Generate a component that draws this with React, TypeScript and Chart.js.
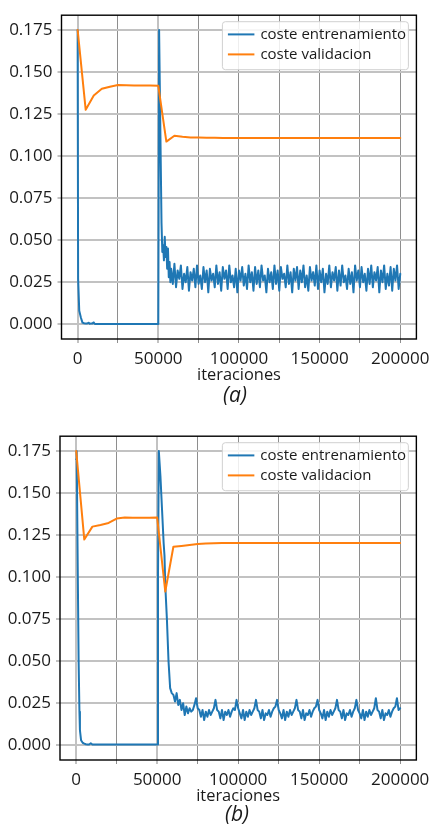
import React, { useEffect, useRef } from 'react';
import { Chart, registerables } from 'chart.js';

Chart.register(...registerables);

// ---------- shared axis values ----------
const X_GRID = [0, 25000, 50000, 75000, 100000, 125000, 150000, 175000, 200000];
const X_LABELED = [0, 50000, 100000, 150000, 200000];
const Y_GRID = [0, 0.025, 0.05, 0.075, 0.1, 0.125, 0.15, 0.175];
const X_LABEL = 'iteraciones';
const SERIES_LABELS = ['coste entrenamiento', 'coste validacion'];
const TRAIN_LOG_STEP = 1000;

// ---------- panel (a) ----------
const trainA_iters = [0, 300, 1000, 2000, 3000, 4000, 5000, 6000, 7000, 7500, 8000, 9000, 10000, 10500, 11000, 12000, 14000, 20000, 30000, 40000, 50000,
  50500, 52000, 52500, 53000, 53500, 54000, 54500, 55000, 55500, 56000, 56500, 57000, 57500];
const trainA_vals = [0.175, 0.027, 0.008, 0.004, 0.001, 0.0006, 0.0004, 0.0005, 0.0009, 0.0003, 0.0004, 0.0004, 0.0011, 0.0003, 0.0002, 0.0002, 0.0002, 0.0001, 0.0001, 0.0001, 0.0001,
  0.175, 0.06, 0.043, 0.047, 0.038, 0.052, 0.04, 0.046, 0.033, 0.045, 0.028, 0.037, 0.025];
const trainA_denseStart = 58000;
const trainA_dense = [
  0.033, 0.024, 0.036, 0.022, 0.032, 0.027, 0.035, 0.021, 0.030, 0.025,
  0.034, 0.020, 0.031, 0.026, 0.033, 0.022, 0.035, 0.024, 0.029, 0.021,
  0.034, 0.025, 0.032, 0.019, 0.033, 0.026, 0.030, 0.022, 0.035, 0.024,
  0.031, 0.020, 0.034, 0.027, 0.032, 0.021, 0.035, 0.025, 0.029, 0.022,
  0.033, 0.019, 0.032, 0.026, 0.034, 0.023, 0.030, 0.021, 0.035, 0.025,
  0.031, 0.020, 0.034, 0.024, 0.032, 0.022, 0.035, 0.026, 0.029, 0.019,
  0.033, 0.025, 0.031, 0.021, 0.035, 0.024, 0.032, 0.020, 0.034, 0.027,
  0.030, 0.022, 0.035, 0.024, 0.031, 0.019, 0.033, 0.026, 0.034, 0.021,
  0.032, 0.025, 0.035, 0.022, 0.029, 0.020, 0.034, 0.026, 0.031, 0.023,
  0.035, 0.021, 0.032, 0.025, 0.033, 0.019, 0.030, 0.024, 0.035, 0.022,
  0.031, 0.026, 0.034, 0.020, 0.032, 0.023, 0.035, 0.025, 0.029, 0.021,
  0.033, 0.024, 0.031, 0.019, 0.035, 0.026, 0.032, 0.022, 0.034, 0.025,
  0.030, 0.020, 0.033, 0.024, 0.035, 0.022, 0.031, 0.026, 0.034, 0.019,
  0.032, 0.025, 0.035, 0.021, 0.030, 0.023, 0.034, 0.020, 0.033, 0.026,
  0.035, 0.021, 0.030,
];
const valA_iters = [0, 5000, 10000, 15000, 20000, 25000, 30000, 35000, 40000, 45000, 50000, 55000, 60000, 65000, 70000, 75000, 80000,
  85000, 90000, 95000, 100000, 105000, 110000, 115000, 120000, 125000, 130000, 135000, 140000, 145000, 150000,
  155000, 160000, 165000, 170000, 175000, 180000, 185000, 190000, 195000, 200000];
const valA_vals = [0.175, 0.1275, 0.136, 0.14, 0.1412, 0.1422, 0.1421, 0.142, 0.1419, 0.1419, 0.1418, 0.1086, 0.1121, 0.1115, 0.1111, 0.111, 0.1109,
  0.1109, 0.1108, 0.1108, 0.1108, 0.1108, 0.1108, 0.1108, 0.1108, 0.1108, 0.1108, 0.1108, 0.1108, 0.1108, 0.1108,
  0.1108, 0.1108, 0.1108, 0.1108, 0.1108, 0.1108, 0.1108, 0.1108, 0.1108, 0.1108];

// ---------- panel (b) ----------
const trainB_iters = [0, 300, 1000, 1500, 2000, 2300, 3000, 4000, 5000, 6000, 7000, 8000, 9000, 10000, 12000, 20000, 30000, 40000, 50000,
  50500, 51000, 52000, 53000, 54000, 54500, 55000, 56000, 57000, 58000];
const trainB_vals = [0.17, 0.175, 0.1, 0.05, 0.02, 0.009, 0.003, 0.0015, 0.001, 0.0006, 0.0005, 0.0005, 0.0012, 0.0005, 0.0004, 0.0004, 0.0004, 0.0004, 0.0004,
  0.1, 0.175, 0.16, 0.14, 0.12, 0.113, 0.095, 0.075, 0.05, 0.034];
const trainB_denseStart = 59000;
const trainB_dense = [
  0.031, 0.030, 0.026, 0.031, 0.024, 0.027, 0.021, 0.025, 0.018, 0.023,
  0.019, 0.022, 0.020, 0.021, 0.024, 0.028, 0.022, 0.021, 0.017, 0.021,
  0.015, 0.020, 0.017, 0.021, 0.018, 0.020, 0.022, 0.027, 0.021, 0.020,
  0.016, 0.021, 0.015, 0.020, 0.018, 0.021, 0.017, 0.020, 0.022, 0.021,
  0.027, 0.022, 0.019, 0.016, 0.021, 0.015, 0.020, 0.017, 0.021, 0.018,
  0.020, 0.022, 0.027, 0.021, 0.020, 0.016, 0.021, 0.015, 0.019, 0.018,
  0.021, 0.017, 0.020, 0.022, 0.023, 0.027, 0.021, 0.019, 0.016, 0.021,
  0.015, 0.020, 0.017, 0.021, 0.018, 0.020, 0.022, 0.027, 0.021, 0.020,
  0.016, 0.021, 0.015, 0.019, 0.018, 0.021, 0.017, 0.020, 0.022, 0.023,
  0.027, 0.021, 0.019, 0.016, 0.021, 0.015, 0.020, 0.017, 0.021, 0.018,
  0.020, 0.022, 0.027, 0.021, 0.020, 0.016, 0.021, 0.015, 0.019, 0.018,
  0.021, 0.017, 0.020, 0.022, 0.027, 0.021, 0.019, 0.016, 0.021, 0.015,
  0.020, 0.017, 0.021, 0.018, 0.020, 0.022, 0.028, 0.021, 0.020, 0.016,
  0.021, 0.015, 0.019, 0.018, 0.021, 0.017, 0.020, 0.022, 0.023, 0.028,
  0.021, 0.022,
];
const valB_iters = valA_iters;
const valB_vals = [0.175, 0.1223, 0.13, 0.131, 0.1322, 0.1348, 0.1354, 0.1353, 0.1352, 0.1353, 0.1354, 0.0914, 0.118, 0.1185, 0.119, 0.1196, 0.12,
  0.1201, 0.1202, 0.1202, 0.1202, 0.1202, 0.1202, 0.1202, 0.1202, 0.1202, 0.1202, 0.1202, 0.1202, 0.1202, 0.1202,
  0.1202, 0.1202, 0.1202, 0.1202, 0.1202, 0.1202, 0.1202, 0.1202, 0.1202, 0.1202];

const BLUE = '#1f77b4';
const ORANGE = '#ff7f0e';
const TEXT = '#1a1a1a';
const FONT = '"Open Sans", "Noto Sans", sans-serif';

type Geo = { top: number; yAxisWidth: number; padRight: number; padTop: number; xAxisHeight: number; capX: number; capTop: number };

function toPoints(iters: number[], vals: number[], denseStart: number, dense: number[]) {
  const pts = iters.map((x, i) => ({ x, y: vals[i] }));
  dense.forEach((y, i) => pts.push({ x: denseStart + i * TRAIN_LOG_STEP, y }));
  return pts;
}

const overlayPlugin = {
  id: 'frameAndLegend',
  afterDatasetsDraw(chart: any) {
    const { ctx, chartArea: a } = chart;
    ctx.save();
    ctx.strokeStyle = '#000';
    ctx.lineWidth = 1.4;
    ctx.strokeRect(a.left, a.top, a.right - a.left, a.bottom - a.top);

    const w = 186, h = 48;
    const bx = a.right - 8 - w;
    const by = a.top + 6.5;
    const r = 3;
    ctx.beginPath();
    ctx.moveTo(bx + r, by);
    ctx.lineTo(bx + w - r, by);
    ctx.arcTo(bx + w, by, bx + w, by + r, r);
    ctx.lineTo(bx + w, by + h - r);
    ctx.arcTo(bx + w, by + h, bx + w - r, by + h, r);
    ctx.lineTo(bx + r, by + h);
    ctx.arcTo(bx, by + h, bx, by + h - r, r);
    ctx.lineTo(bx, by + r);
    ctx.arcTo(bx, by, bx + r, by, r);
    ctx.closePath();
    ctx.fillStyle = 'rgba(255,255,255,0.85)';
    ctx.fill();
    ctx.strokeStyle = '#d0d0d0';
    ctx.lineWidth = 1;
    ctx.stroke();

    const ds = [...chart.data.datasets].sort((p: any, q: any) => p.legendIndex - q.legendIndex);
    ds.forEach((d: any, i: number) => {
      const y = by + 12.7 + i * 20;
      ctx.strokeStyle = d.borderColor;
      ctx.lineWidth = 2;
      ctx.beginPath();
      ctx.moveTo(bx + 5.5, y);
      ctx.lineTo(bx + 32, y);
      ctx.stroke();
      ctx.fillStyle = TEXT;
      ctx.font = `15px ${FONT}`;
      ctx.textBaseline = 'middle';
      ctx.textAlign = 'left';
      ctx.fillText(d.label, bx + 38, y);
    });
    ctx.restore();
  },
};

function Panel({ geo, train, val, caption }: { geo: Geo; train: { x: number; y: number }[]; val: { x: number; y: number }[]; caption: string }) {
  const ref = useRef<HTMLCanvasElement>(null);
  useEffect(() => {
    if (!ref.current) return;
    const isLight = (v: number) => v === 0 || v === 50000;
    const chart = new Chart(ref.current, {
      type: 'line',
      data: {
        datasets: [
          { label: SERIES_LABELS[0], data: train, borderColor: BLUE, borderWidth: 2, pointRadius: 0, fill: false, order: 2, legendIndex: 0 } as any,
          { label: SERIES_LABELS[1], data: val, borderColor: ORANGE, borderWidth: 2, pointRadius: 0, fill: false, order: 1, legendIndex: 1 } as any,
        ],
      },
      options: {
        responsive: false,
        maintainAspectRatio: false,
        animation: false,
        devicePixelRatio: 1,
        parsing: false,
        layout: { padding: { top: geo.padTop, right: geo.padRight, left: 0, bottom: 0 } },
        plugins: { legend: { display: false }, tooltip: { enabled: false } },
        elements: { line: { tension: 0, borderJoinStyle: 'round', borderCapStyle: 'round' }, point: { radius: 0 } },
        scales: {
          x: {
            type: 'linear',
            min: -10000,
            max: 210000,
            afterBuildTicks: (s: any) => { s.ticks = X_GRID.map((v) => ({ value: v })); },
            afterFit: (s: any) => { s.height = geo.xAxisHeight; },
            border: { display: false },
            grid: {
              color: (c: any) => (isLight(c.tick?.value) ? '#c2c2c2' : '#8e8e8e'),
              lineWidth: (c: any) => (isLight(c.tick?.value) ? 2 : 1),
              tickLength: 4,
              drawTicks: true,
            },
            ticks: {
              autoSkip: false,
              maxRotation: 0,
              padding: 6,
              color: TEXT,
              font: { family: FONT, size: 17 },
              callback: (v: any) => (X_LABELED.includes(Number(v)) ? String(v) : ''),
            },
            title: {
              display: true,
              text: X_LABEL,
              color: TEXT,
              font: { family: FONT, size: 16.4 },
              padding: { top: 0, bottom: 15 },
            },
          },
          y: {
            type: 'linear',
            min: -0.00875,
            max: 0.18375,
            afterBuildTicks: (s: any) => { s.ticks = Y_GRID.map((v) => ({ value: v })); },
            afterFit: (s: any) => { s.width = geo.yAxisWidth; },
            border: { display: false },
            grid: { color: '#c2c2c2', lineWidth: 2, tickLength: 4, drawTicks: true },
            ticks: {
              padding: 5,
              color: TEXT,
              font: { family: FONT, size: 17 },
              callback: (v: any) => Number(v).toFixed(3),
            },
          },
        },
      },
      plugins: [overlayPlugin],
    } as any);
    return () => chart.destroy();
  }, []);
  return (
    <>
      <canvas ref={ref} width={436} height={400} style={{ position: 'absolute', left: 0, top: geo.top, width: 436, height: 400 }} />
      <div
        style={{
          position: 'absolute',
          left: geo.capX - 50,
          width: 100,
          top: geo.capTop,
          textAlign: 'center',
          fontFamily: FONT,
          fontStyle: 'italic',
          fontSize: 21,
          lineHeight: '26px',
          color: TEXT,
        }}
      >
        {caption}
      </div>
    </>
  );
}

export default function App() {
  const trainA = toPoints(trainA_iters, trainA_vals, trainA_denseStart, trainA_dense);
  const valA = valA_iters.map((x, i) => ({ x, y: valA_vals[i] }));
  const trainB = toPoints(trainB_iters, trainB_vals, trainB_denseStart, trainB_dense);
  const valB = valB_iters.map((x, i) => ({ x, y: valB_vals[i] }));
  return (
    <div style={{ position: 'absolute', left: 0, top: 0, width: 436, height: 829, background: '#fff', overflow: 'hidden' }}>
      <Panel geo={{ top: 0, yAxisWidth: 61.5, padRight: 12.5, padTop: 6, xAxisHeight: 61, capX: 235, capTop: 380.5 }} train={trainA} val={valA} caption="(a)" />
      <Panel geo={{ top: 421, yAxisWidth: 60, padRight: 15, padTop: 6, xAxisHeight: 61, capX: 237, capTop: 800 }} train={trainB} val={valB} caption="(b)" />
    </div>
  );
}
